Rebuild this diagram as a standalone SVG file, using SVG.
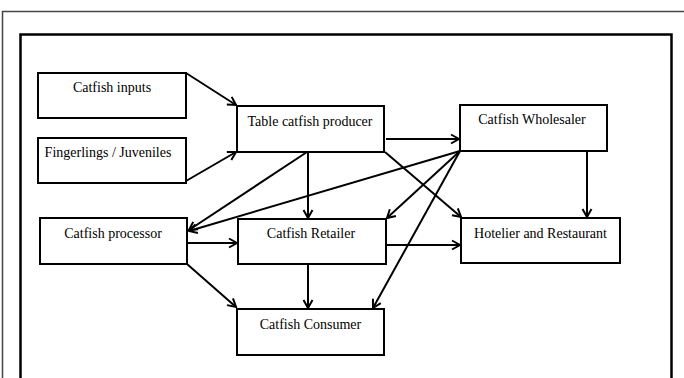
<svg xmlns="http://www.w3.org/2000/svg" width="684" height="378" viewBox="0 0 684 378">
<defs>
<style>
.box{fill:#fff;stroke:#000;stroke-width:2}
.lbl{font-family:"Liberation Serif","Times New Roman",serif;font-size:14px;fill:#000;text-anchor:middle}
.con{stroke:#000;stroke-width:2;fill:none;marker-end:url(#ah)}
</style>
<marker id="ah" viewBox="-10 -6 12 12" refX="0" refY="0" markerWidth="12" markerHeight="12" markerUnits="userSpaceOnUse" orient="auto">
<path d="M-8,-4.5 L0,0 L-8,4.5" fill="none" stroke="#000" stroke-width="2"/>
</marker>
</defs>
<rect width="684" height="378" fill="#fff"/>
<path d="M2.5,378 V11.5 H684" fill="none" stroke="#444" stroke-width="1.5"/>
<path d="M20.5,378 V34.5 H671.5 V378" fill="none" stroke="#000" stroke-width="2.5"/>
<g id="connectors">
<line class="con" x1="186" y1="73" x2="236" y2="105"/>
<line class="con" x1="186" y1="181" x2="236" y2="152"/>
<line class="con" x1="386" y1="139" x2="459" y2="139"/>
<line class="con" x1="308" y1="152" x2="308" y2="218"/>
<line class="con" x1="307" y1="152" x2="189" y2="230"/>
<line class="con" x1="385" y1="152" x2="461" y2="217"/>
<line class="con" x1="587" y1="151" x2="587" y2="217"/>
<line class="con" x1="460" y1="151" x2="189" y2="231"/>
<line class="con" x1="460" y1="151" x2="387" y2="218"/>
<line class="con" x1="460" y1="151" x2="373" y2="308"/>
<line class="con" x1="188" y1="243" x2="237" y2="243"/>
<line class="con" x1="187" y1="264" x2="236" y2="307"/>
<line class="con" x1="308" y1="264" x2="308" y2="308"/>
<line class="con" x1="386" y1="245" x2="460" y2="245"/>
</g>
<g id="inputs"><rect class="box" x="38" y="73" width="148" height="45"/><text class="lbl" x="112" y="92">Catfish inputs</text></g>
<g id="fingerlings"><rect class="box" x="38" y="138" width="148" height="45"/><text class="lbl" x="108" y="157">Fingerlings / Juveniles</text></g>
<g id="producer"><rect class="box" x="237" y="106" width="147" height="46"/><text class="lbl" x="310" y="126">Table catfish producer</text></g>
<g id="wholesaler"><rect class="box" x="460" y="105" width="147" height="46"/><text class="lbl" x="532" y="124">Catfish Wholesaler</text></g>
<g id="processor"><rect class="box" x="40" y="218" width="147" height="46"/><text class="lbl" x="113" y="238">Catfish processor</text></g>
<g id="retailer"><rect class="box" x="238" y="219" width="148" height="45"/><text class="lbl" x="311" y="238">Catfish Retailer</text></g>
<g id="hotelier"><rect class="box" x="461" y="218" width="159" height="45"/><text class="lbl" x="540.5" y="238">Hotelier and Restaurant</text></g>
<g id="consumer"><rect class="box" x="237" y="309" width="147" height="46"/><text class="lbl" x="310.5" y="329">Catfish Consumer</text></g>
</svg>
